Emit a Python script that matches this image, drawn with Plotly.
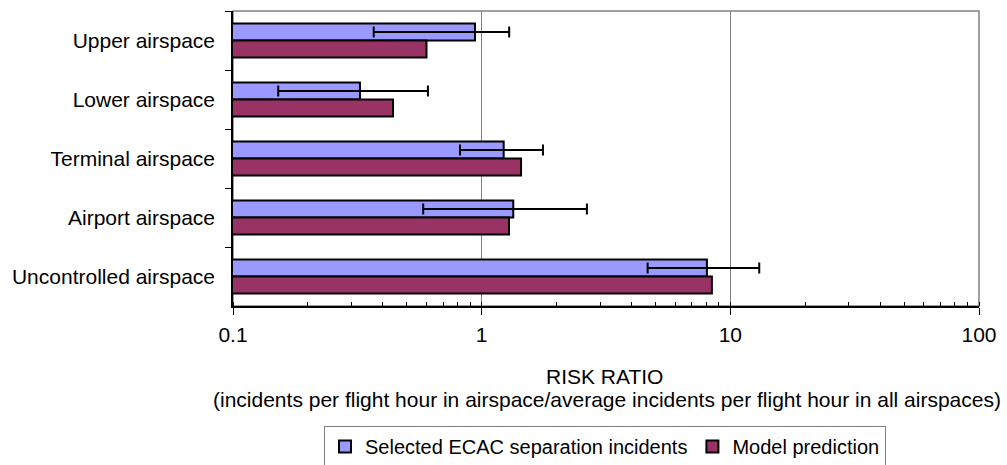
import plotly.graph_objects as go

categories = ["Upper airspace", "Lower airspace", "Terminal airspace", "Airport airspace", "Uncontrolled airspace"]
incidents = [0.94, 0.324, 1.226, 1.34, 8.05]
incidents_low = [0.368, 0.152, 0.818, 0.582, 4.65]
incidents_high = [1.29, 0.608, 1.764, 2.65, 13.07]
model = [0.60, 0.44, 1.44, 1.288, 8.43]
x_ticks = [0.1, 1, 10, 100]
x_tick_labels = ["0.1", "1", "10", "100"]

FONT = "Arial, Liberation Sans, sans-serif"
FS = 21

err_plus = [h - v for h, v in zip(incidents_high, incidents)]
err_minus = [v - l for v, l in zip(incidents, incidents_low)]

fig = go.Figure()
fig.add_trace(go.Bar(
    y=categories, x=incidents, orientation="h",
    name="Selected ECAC separation incidents",
    marker=dict(color="#9999FF", line=dict(color="black", width=2)),
    error_x=dict(type="data", symmetric=False, array=err_plus, arrayminus=err_minus,
                 color="black", thickness=2, width=5.5),
))
fig.add_trace(go.Bar(
    y=categories, x=model, orientation="h",
    name="Model prediction",
    marker=dict(color="#993366", line=dict(color="black", width=2)),
))

fig.update_layout(
    width=1007, height=465,
    margin=dict(l=233, r=28, t=11, b=159, autoexpand=False),
    paper_bgcolor="white", plot_bgcolor="white",
    font=dict(family=FONT, size=FS, color="black"),
    barmode="group", bargap=0.42, bargroupgap=0,
    showlegend=True,
    legend=dict(orientation="h", xref="container", yref="container",
                x=605 / 1007, xanchor="center", y=1 - 426 / 465, yanchor="top",
                bordercolor="#808080", borderwidth=1, bgcolor="white",
                font=dict(family=FONT, size=20), traceorder="normal"),
    xaxis=dict(type="log", range=[-1, 2], tickvals=x_ticks, ticktext=x_tick_labels,
               showgrid=True, gridcolor="#808080", gridwidth=1,
               showline=True, linecolor="black", linewidth=1.5,
               ticks="outside", ticklen=7, tickcolor="black", tickwidth=1,
               minor=dict(ticks="inside", ticklen=4, tickcolor="black", dtick="D1", showgrid=False),
               zeroline=False, tickfont=dict(size=FS), ticklabelstandoff=2),
    yaxis=dict(autorange="reversed", type="category", tickson="boundaries",
               ticks="outside", ticklen=6, tickcolor="black",
               showline=True, linecolor="black", linewidth=1.5, showgrid=False,
               ticklabelstandoff=12, tickfont=dict(size=FS)),
    shapes=[dict(type="rect", xref="paper", yref="paper", x0=0, x1=1, y0=0, y1=1,
                 line=dict(color="#808080", width=1.5), layer="below")],
    annotations=[
        dict(text="RISK RATIO", xref="paper", yref="paper", x=(604 - 233) / 746, y=(306 - 376) / 295,
             xanchor="center", yanchor="middle", showarrow=False, font=dict(size=FS)),
        dict(text="(incidents per flight hour in airspace/average incidents per flight hour in all airspaces)",
             xref="paper", yref="paper", x=(1003 - 233) / 746, y=(306 - 400) / 295,
             xanchor="right", yanchor="middle", showarrow=False, font=dict(size=FS)),
    ],
)

fig.write_html(
    "out.html",
    config={"displayModeBar": False},
    post_script="document.body.style.margin='0';document.body.style.overflow='hidden';",
)
